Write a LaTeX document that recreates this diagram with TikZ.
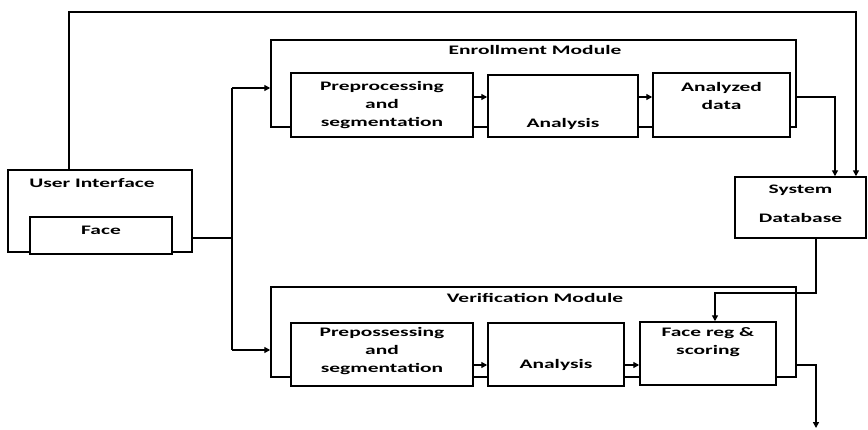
\documentclass[tikz,border=0pt]{standalone}
\usepackage{fontspec}
\usetikzlibrary{arrows.meta}
\newfontfamily\lab[FakeStretch=1.65]{Carlito}
\begin{document}
\begin{tikzpicture}[x=1pt,y=-1pt,
  box/.style={draw,fill=white,line width=1.5pt,inner sep=0pt},
  frame/.style={draw,line width=1.5pt,inner sep=0pt},
  txt/.style={font=\lab\bfseries\fontsize{13}{18}\selectfont,align=center,inner sep=0pt},
  link/.style={line width=1.4pt},
  arr/.style={line width=1.4pt,-{Triangle[length=6pt,width=6pt]}}]
\useasboundingbox (0,0) rectangle (868,429);

% module frames
\node[frame,minimum width=525pt,minimum height=87pt] (enr) at (533.5,83.5) {};
\node[txt] (enrlbl) at (535,50) {Enrollment Module};
\node[frame,minimum width=525pt,minimum height=90pt] (ver) at (533.5,332) {};
\node[txt] (verlbl) at (535,298) {Verification Module};

% user interface
\node[frame,minimum width=184pt,minimum height=82pt] (ui) at (100,211) {};
\node[txt] (uilbl) at (92,183) {User Interface};
\node[box,minimum width=142pt,minimum height=37pt] (face) at (101,235.5) {};
\node[txt] (facelbl) at (101,230) {Face};

% enrollment steps
\node[box,minimum width=182pt,minimum height=64pt] (pre1) at (382,105) {};
\node[txt] (pre1lbl) at (382,105) {Preprocessing\\and\\segmentation};
\node[box,minimum width=150pt,minimum height=62pt] (ana1) at (563,106) {};
\node[txt] (ana1lbl) at (563,124) {Analysis};
\node[box,minimum width=137pt,minimum height=64pt] (dat1) at (721.5,105) {};
\node[txt] (dat1lbl) at (721.5,96) {Analyzed\\data};

% database
\node[box,minimum width=131pt,minimum height=61pt] (db) at (800.5,207.5) {};
\node[txt] (dblbl1) at (800.5,190) {System};
\node[txt] (dblbl2) at (800.5,218) {Database};

% verification steps
\node[box,minimum width=182pt,minimum height=63pt] (pre2) at (382,354.5) {};
\node[txt] (pre2lbl) at (382,351) {Prepossessing\\and\\segmentation};
\node[box,minimum width=136pt,minimum height=63pt] (ana2) at (556,354.5) {};
\node[txt] (ana2lbl) at (556,365) {Analysis};
\node[box,minimum width=136pt,minimum height=63pt] (frs) at (708,353.5) {};
\node[txt] (frslbl) at (708,342) {Face reg \&\\scoring};

% routing points
\coordinate (topl) at (69,12);
\coordinate (topr) at (856,12);
\coordinate (jmid) at (232,238);
\coordinate (jtop) at (232,88);
\coordinate (jbot) at (232,350);
\coordinate (enrout) at (835,97);
\coordinate (dbdrop) at (816,293);
\coordinate (frsin) at (715,293);
\coordinate (verout) at (816,365);
\coordinate (result) at (816,428);

% feedback line from the user interface to the database
\draw[arr] (ui.north -| topl) -- (topl) -- (topr) -- (db.north -| topr);

% user interface to both modules
\draw[link] (ui.east |- jmid) -- (jmid);
\draw[link] (jtop) -- (jbot);
\draw[arr] (jtop) -- (jtop -| enr.west);
\draw[arr] (jbot) -- (jbot -| ver.west);

% enrollment flow
\draw[arr] (pre1.east |- 0,97) -- (ana1.west |- 0,97);
\draw[arr] (ana1.east |- 0,97) -- (dat1.west |- 0,97);
\draw[arr] (enr.east |- enrout) -- (enrout) -- (db.north -| enrout);

% database to matching
\draw[arr] (db.south -| dbdrop) -- (dbdrop) -- (frsin) -- (frs.north -| frsin);

% verification flow
\draw[arr] (pre2.east |- 0,365) -- (ana2.west |- 0,365);
\draw[arr] (ana2.east |- 0,365) -- (frs.west |- 0,365);
\draw[arr] (ver.east |- verout) -- (verout) -- (result);
\end{tikzpicture}
\end{document}
